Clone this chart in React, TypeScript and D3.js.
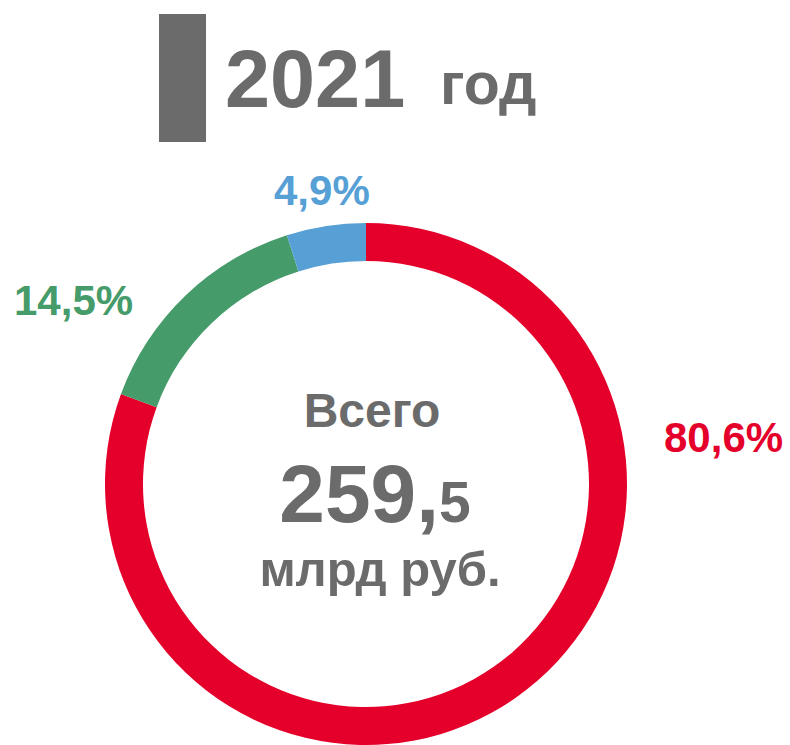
import React from "react";
import * as d3 from "d3";

const categories = ["A", "B", "C"];
const values = [80.6, 14.5, 4.9];
const labels = ["80,6%", "14,5%", "4,9%"];
const colors = ["#E4002B", "#459B69", "#56A0D6"];
const totalMain = "259,";
const totalDecimal = "5";

const W = 790;
const H = 745;
const cx = 366;
const cy = 484;
const outerR = 261;
const innerR = 223;
const gray = "#6B6B6B";
const font = "'Liberation Sans', Arial, sans-serif";

// label anchor placements (layout, per slice)
const labelPos = [
  { x: 664, y: 452 },
  { x: 14, y: 315 },
  { x: 274, y: 205 },
];

export default function App() {
  const pie = d3
    .pie<number>()
    .sort(null)
    .value((d) => d)
    .startAngle(0)
    .endAngle(Math.PI * 2);
  const arcs = pie(values);
  const arc = d3.arc<d3.PieArcDatum<number>>().innerRadius(innerR).outerRadius(outerR);

  return (
    <svg
      width={W}
      height={H}
      viewBox={`0 0 ${W} ${H}`}
      style={{ position: "absolute", left: 0, top: 0, background: "#fff" }}
      fontFamily={font}
      fontWeight="bold"
    >
      <rect x={159} y={14} width={47} height={128} fill={gray} />
      <text x={225} y={107} fontSize={81} fill={gray}>
        2021
      </text>
      <text x={440} y={104} fontSize={59} fill={gray}>
        год
      </text>

      <g transform={`translate(${cx},${cy})`}>
        {arcs.map((a, i) => (
          <path key={categories[i]} d={arc(a) || ""} fill={colors[i]} />
        ))}
      </g>

      {arcs.map((a, i) => (
        <text key={"l" + categories[i]} x={labelPos[i].x} y={labelPos[i].y} fontSize={42} fill={colors[i]}>
          {labels[i]}
        </text>
      ))}

      <text x={372} y={427} fontSize={48} fill={gray} textAnchor="middle">
        Всего
      </text>
      <text x={375} y={522} textAnchor="middle" fill={gray}>
        <tspan fontSize={82}>{totalMain}</tspan>
        <tspan fontSize={57}>{totalDecimal}</tspan>
      </text>
      <text x={380} y={586} fontSize={49} fill={gray} textAnchor="middle">
        млрд руб.
      </text>
    </svg>
  );
}
